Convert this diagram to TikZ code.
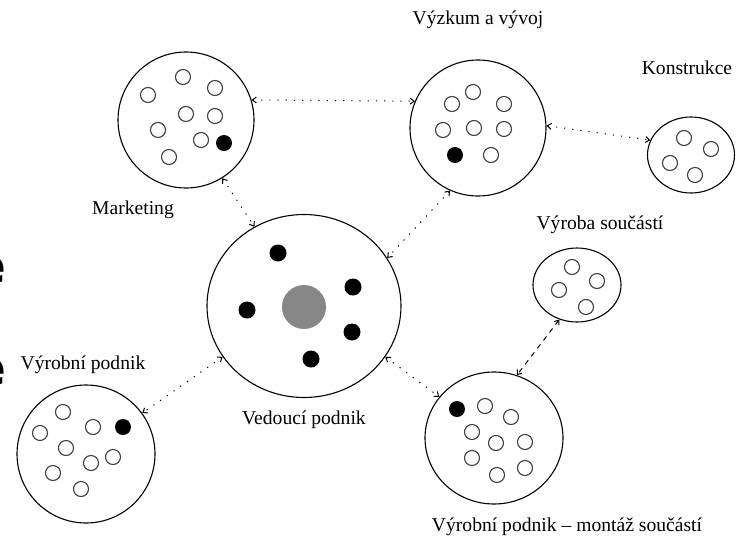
\documentclass[tikz,border=0pt]{standalone}
\usepackage{fontspec}
\setmainfont{Liberation Serif}
\newfontfamily\edgefont{DejaVu Sans}
\usetikzlibrary{arrows.meta,shapes.geometric}
\begin{document}
\begin{tikzpicture}[x=1pt,y=-1pt,
  org/.style={ellipse,draw,line width=1.1pt,inner sep=0pt},
  member/.style={draw=black!75,line width=1.1pt},
  leaddot/.style={fill=black},
  conn/.style={line width=1pt,dash pattern=on 1.2pt off 7pt,{Straight Barb[length=4pt,width=6pt]}-{Straight Barb[length=4pt,width=6pt]}},
  dconn/.style={line width=1pt,dash pattern=on 5pt off 5pt,{Straight Barb[length=4pt,width=6pt]}-{Straight Barb[length=4pt,width=6pt]}},
  lbl/.style={font=\fontsize{19.6}{22}\selectfont,inner sep=0pt}]
\useasboundingbox (0,0) rectangle (740,539);
\fill[white] (0,0) rectangle (740,539);
% clipped fragments at the left edge
\begin{scope}
\clip (0,0) rectangle (740,539);
\node[anchor=east,inner sep=0pt,font=\edgefont\bfseries\fontsize{50}{52}\selectfont] (g1) at (7,264) {ě};
\node[anchor=east,inner sep=0pt,font=\edgefont\bfseries\fontsize{50}{52}\selectfont] (g2) at (7,366) {é};
\end{scope}
% organisations
\node[org,minimum width=136pt,minimum height=136pt] (mkt) at (186,120) {};
\node[org,minimum width=136pt,minimum height=136pt] (vyz) at (478,128) {};
\node[org,minimum width=87pt,minimum height=76pt] (kon) at (691,155) {};
\node[org,minimum width=194pt,minimum height=183pt] (ved) at (304,306) {};
\node[org,minimum width=88pt,minimum height=74pt] (vys) at (577,285) {};
\node[org,minimum width=138pt,minimum height=138pt] (vpl) at (86,454) {};
\node[org,minimum width=138pt,minimum height=132pt] (mon) at (494,438) {};
% members
\foreach \p in {(183,77),(148,95),(215,88),(186,114),(215,116),(158,130),(201,140),(169,157),
                (473,92),(452,104),(504,104),(443,130),(474,128),(504,129),(491,155),
                (684,138),(711,149),(670,163),(695,175),
                (572,267),(597,281),(559,290),(586,307),
                (63,412),(40,433),(93,427),(66,448),(113,457),(91,463),(53,473),(81,489),
                (485,406),(511,417),(472,432),(496,443),(525,442),(472,458),(497,475),(525,468)}
  \draw[member] \p circle (7.5);
\foreach \p in {(224,143),(455,155),(123,427),(457,409)}
  \fill[leaddot] \p circle (8);
\foreach \p in {(278,253),(353,287),(247,310),(352,332),(311,359)}
  \fill[leaddot] \p circle (8.5);
\fill[black!47] (304,307) circle (22);
% labels
\node[lbl] (lmkt) at (133,210) {Marketing};
\node[lbl] (lvyz) at (478,20) {Výzkum a vývoj};
\node[lbl] (lkon) at (687,68) {Konstrukce};
\node[lbl] (lved) at (304,420) {Vedoucí podnik};
\node[lbl] (lvys) at (600,225) {Výroba součástí};
\node[lbl] (lvpl) at (83,365) {Výrobní podnik};
\node[lbl] (lmon) at (567,527) {Výrobní podnik – montáž součástí};
% connectors
\draw[conn] (mkt.17) -- (vyz.157);
\draw[conn] (vyz.2) -- (kon.160);
\draw[conn] (mkt.302) -- (ved.122);
\draw[conn] (vyz.246) -- (ved.30);
\draw[conn] (ved.212) -- (vpl.36);
\draw[conn] (ved.328) -- (mon.143);
\draw[dconn] (vys.243) -- (mon.70);
\end{tikzpicture}
\end{document}
